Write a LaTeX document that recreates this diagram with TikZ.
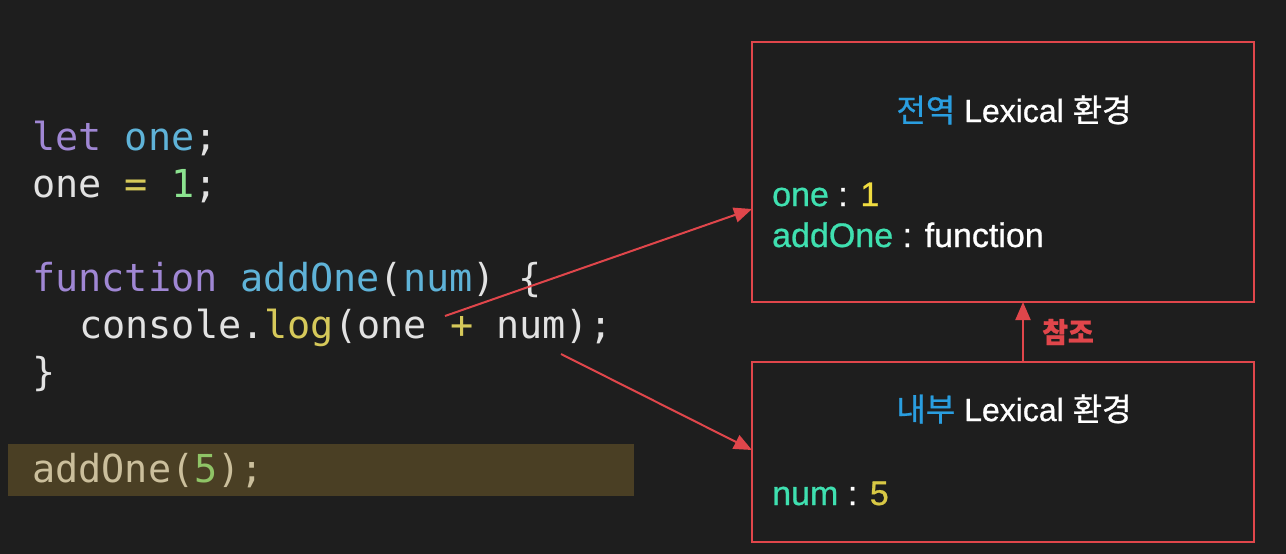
\documentclass[tikz,border=0pt]{standalone}
\usepackage{fontspec}
\setmainfont{Liberation Sans}[FakeBold=0.8]
\setmonofont{DejaVu Sans Mono}
\newfontfamily\kr{Noto Sans CJK KR}[FakeBold=0.8]
\usetikzlibrary{arrows.meta}
\definecolor{bg}{HTML}{1E1E1E}
\definecolor{kw}{HTML}{A087D4}
\definecolor{var}{HTML}{5FB3D8}
\definecolor{cwhite}{HTML}{E2E2E2}
\definecolor{op}{HTML}{D6C95A}
\definecolor{num}{HTML}{8CE390}
\definecolor{hlbg}{HTML}{4A3F24}
\definecolor{hltext}{HTML}{CBBF9C}
\definecolor{hlnum}{HTML}{8FC466}
\definecolor{boxred}{HTML}{E0464B}
\definecolor{ttlblue}{HTML}{2A9EE0}
\definecolor{teal}{HTML}{3FE0B0}
\definecolor{yel}{HTML}{F0DC40}
\definecolor{yel2}{HTML}{D8C845}
\begin{document}
\begin{tikzpicture}[x=1pt,y=-1pt,
  code/.style={anchor=base west, inner sep=0pt, text=cwhite,
    font=\ttfamily\fontsize{38.5}{46}\selectfont},
  envbox/.style={draw=boxred, line width=2pt, inner sep=0pt},
  ttl/.style={anchor=base, inner sep=0pt, text=white,
    font=\fontsize{32}{38}\selectfont},
  entry/.style={anchor=base west, inner sep=0pt, text=white,
    font=\fontsize{34}{40}\selectfont},
  refarrow/.style={draw=boxred, line width=2pt,
    -{Triangle[length=18pt,width=15pt]}}
]
\fill[bg] (0,0) rectangle (1286,554);
\useasboundingbox (0,0) rectangle (1286,554);

% highlight of the call line
\node[fill=hlbg, minimum width=626pt, minimum height=52pt, inner sep=0pt] (hl) at (321,470) {};

% code
\node[code] (l1) at (32,150) {{\color{kw}let} {\color{var}one};};
\node[code] (l2) at (32,197) {one {\color{op}=} {\color{num}1};};
\node[code] (l3) at (32,291) {{\color{kw}function} {\color{var}addOne}(\textcolor{var}{num}) \{};
\node[code] (l4) at (79,338) {console.{\color{op}log}(one {\color{op}+} num);};
\node[code] (l5) at (32,385) {\}};
\node[code, text=hltext] (l6) at (32,482) {addOne({\color{hlnum}5});};

% environment boxes
\node[envbox, minimum width=502pt, minimum height=260pt] (glob) at (1003,172) {};
\node[envbox, minimum width=502pt, minimum height=180pt] (inner) at (1003,452) {};

\node[ttl] (t1) at (1014,122) {{\kr\color{ttlblue}전역} Lexical {\kr 환경}};
\node[entry] (e1) at (772,206) {{\color{teal}one} : {\color{yel}1}};
\node[entry] (e2) at (772,247) {{\color{teal}addOne} : function};

\node[ttl] (t2) at (1014,421) {{\kr\color{ttlblue}내부} Lexical {\kr 환경}};
\node[entry] (e3) at (772,505) {{\color{teal}num} : {\color{yel2}5}};

% reference arrow
\coordinate (up0) at (1023,362);
\coordinate (up1) at (1023,302);
\draw[refarrow] (up0) -- (up1);
\node[text=boxred, font=\kr\bfseries\fontsize{28}{32}\selectfont, anchor=west, inner sep=0pt] (ref) at (1042,332) {참조};

% pointer arrows
\coordinate (s1) at (445,316);
\coordinate (g1) at (752,209);
\coordinate (s2) at (561,354);
\coordinate (g2) at (752,450);
\draw[refarrow] (s1) -- (g1);
\draw[refarrow] (s2) -- (g2);
\end{tikzpicture}
\end{document}
